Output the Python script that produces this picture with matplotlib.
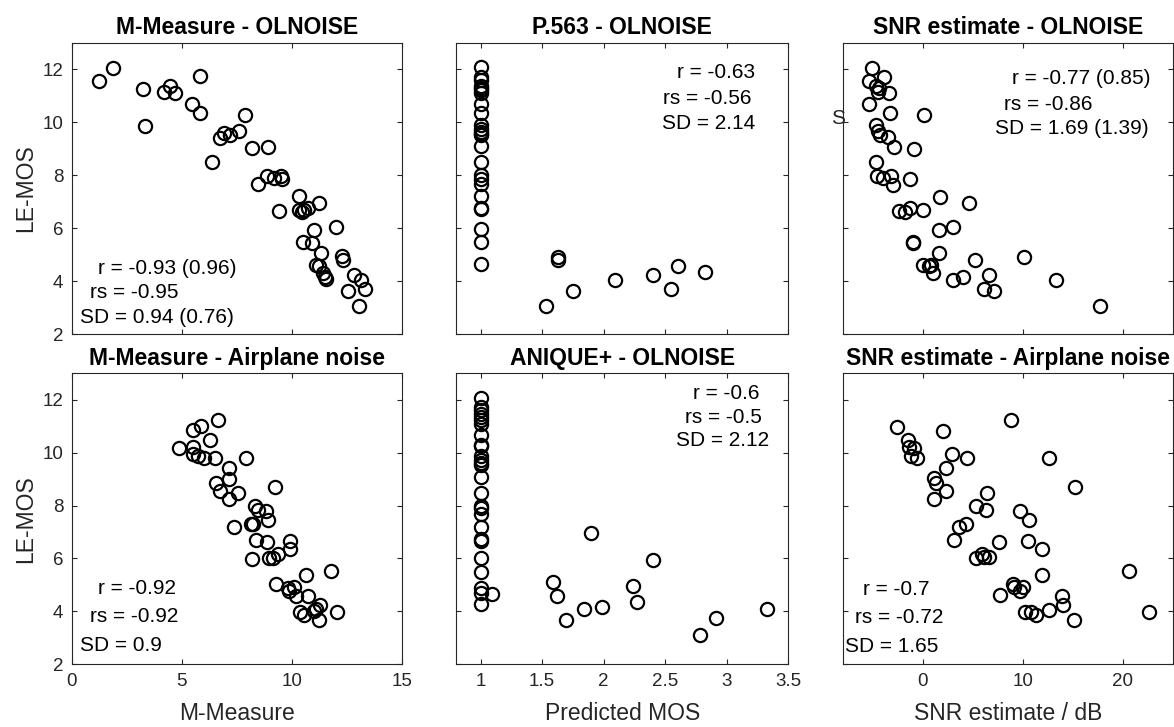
import matplotlib
matplotlib.use("Agg")
import matplotlib.pyplot as plt

plt.rcParams["font.family"] = ["Liberation Sans", "DejaVu Sans"]

# LE-MOS against M-Measure, OLNOISE
mm_ol_x = [1.25, 1.89, 3.22, 3.32, 4.20, 4.49, 4.71, 5.45, 5.82, 5.82, 6.39, 6.75, 6.90, 7.20, 7.60,
           7.89, 8.19, 8.49, 8.87, 8.91, 9.21, 9.52, 9.56, 9.44, 10.32, 10.32, 10.47, 10.57, 10.72, 11.25,
           10.50, 10.92, 11.03, 11.33, 11.10, 11.22, 11.40, 11.56, 11.52, 12.00, 12.28, 12.34, 12.84, 12.54,
           13.14, 13.34, 13.04]
mm_ol_y = [11.57, 12.06, 11.25, 9.86, 11.13, 11.38, 11.09, 10.67, 11.73, 10.33, 8.49, 9.42, 9.61, 9.51, 9.66,
           10.27, 9.03, 7.66, 7.96, 9.08, 7.89, 7.99, 7.86, 6.65, 7.20, 6.70, 6.60, 6.70, 6.75, 6.95,
           5.50, 5.46, 5.94, 5.08, 4.63, 4.57, 4.32, 4.09, 4.16, 6.03, 4.95, 4.82, 4.25, 3.62,
           4.06, 3.71, 3.08]

# P.563, OLNOISE
p563_x = [1.0, 1.0, 1.0, 1.0, 1.0, 1.0, 1.0, 1.0, 1.0, 1.0, 1.0, 1.0, 1.0, 1.0, 1.0, 1.0, 1.0,
          1.0, 1.0, 1.0, 1.0, 1.0, 1.0, 1.0, 1.0,
          1.63, 1.63, 1.53, 1.75, 2.09, 2.40, 2.60, 2.55, 2.82]
p563_y = [12.10, 11.72, 11.59, 11.38, 11.30, 11.22, 11.09, 10.67, 10.33, 9.91, 9.76, 9.63, 9.57, 9.51,
          9.11, 8.50, 8.00, 7.87, 7.68, 7.22, 6.76, 6.71, 5.97, 5.49, 4.66,
          4.92, 4.80, 3.08, 3.65, 4.06, 4.25, 4.57, 3.72, 4.34]

# SNR estimate, OLNOISE
snr_ol_x = [-5.07, -5.33, -3.83, -4.67, -4.33, -4.50, -3.40, -5.40, -3.27, 0.17, -4.67, -4.50, -4.27,
            -3.50, -2.90, -0.90, -4.67, -4.60, -3.93, -3.17, -3.00, -1.27, 1.73, 4.60, -2.33, -1.73,
            -1.27, 0.07, 1.60, 3.07, -1.00, -0.95, 1.60, 5.27, 10.17, 0.00, 0.67, 0.83, 1.00, 3.00,
            4.07, 6.67, 6.17, 7.17, 13.33, 17.77]
snr_ol_y = [12.06, 11.57, 11.72, 11.38, 11.28, 11.15, 11.09, 10.67, 10.33, 10.27, 9.89, 9.66, 9.53,
            9.44, 9.06, 9.00, 8.49, 7.99, 7.89, 7.96, 7.65, 7.86, 7.18, 6.95, 6.66, 6.62,
            6.75, 6.68, 5.94, 6.03, 5.48, 5.45, 5.05, 4.80, 4.92, 4.63, 4.59, 4.63, 4.32, 4.06,
            4.15, 4.25, 3.71, 3.65, 4.06, 3.08]

# M-Measure, airplane noise
mm_ap_x = [6.65, 5.51, 5.89, 6.27, 4.88, 5.51, 5.51, 5.74, 6.00, 6.50, 7.93, 7.15, 7.15, 6.54, 6.75,
           7.15, 7.55, 9.26, 8.31, 8.46, 8.84, 8.91, 7.36, 8.16, 8.23, 8.38, 8.87, 9.92, 9.92, 8.20,
           8.96, 9.17, 9.37, 9.29, 10.65, 11.78, 9.82, 9.89, 10.12, 10.20, 10.73, 10.38, 10.57, 11.03,
           11.10, 11.28, 11.22, 12.04]
mm_ap_y = [11.22, 10.84, 10.99, 10.49, 10.17, 10.21, 9.96, 9.88, 9.80, 9.80, 9.80, 9.42, 9.02, 8.85, 8.54,
           8.25, 8.47, 8.69, 7.97, 7.84, 7.81, 7.44, 7.19, 7.30, 7.30, 6.69, 6.62, 6.67, 6.37, 5.99,
           6.02, 6.02, 6.17, 5.05, 5.39, 5.51, 4.88, 4.76, 4.91, 4.57, 4.59, 3.96, 3.88, 4.03,
           4.09, 4.25, 3.66, 3.96]

# ANIQUE+, OLNOISE
anique_x = [1.0, 1.0, 1.0, 1.0, 1.0, 1.0, 1.0, 1.0, 1.0, 1.0, 1.0, 1.0, 1.0, 1.0, 1.0, 1.0, 1.0,
            1.0, 1.0, 1.0, 1.0, 1.0, 1.0, 1.0, 1.0, 1.0, 1.0,
            1.09, 1.585, 1.62, 1.69, 1.84, 1.99, 1.90, 2.24, 2.27, 2.40, 2.78, 2.91, 3.33]
anique_y = [12.06, 11.71, 11.60, 11.47, 11.35, 11.22, 11.09, 10.68, 10.30, 10.26, 9.86, 9.71, 9.61,
            9.55, 9.08, 8.47, 7.97, 7.91, 7.69, 7.19, 6.74, 6.65, 6.02, 5.48, 4.89, 4.70, 4.29,
            4.66, 5.10, 4.59, 3.66, 4.09, 4.17, 6.96, 4.95, 4.36, 5.93, 3.10, 3.75, 4.09]

# SNR estimate, airplane noise
snr_ap_x = [-2.57, 2.07, 8.83, -1.43, -1.40, -0.83, -1.17, -0.60, 2.93, 4.40, 12.60, 2.33, 1.17, 1.33,
            2.33, 1.10, 6.43, 15.27, 5.33, 6.33, 9.73, 10.67, 3.67, 4.33, 3.17, 7.67, 10.57, 11.90,
            5.33, 5.93, 6.17, 6.60, 20.67, 11.90, 9.07, 9.17, 10.00, 9.73, 7.77, 13.93, 14.07, 10.27,
            10.83, 11.33, 12.67, 15.17, 22.60]
snr_ap_y = [10.97, 10.83, 11.22, 10.49, 10.21, 10.17, 9.86, 9.80, 9.95, 9.80, 9.80, 9.42, 9.04, 8.85,
            8.54, 8.26, 8.47, 8.69, 7.97, 7.84, 7.81, 7.47, 7.19, 7.30, 6.69, 6.62, 6.65, 6.37,
            6.02, 6.18, 6.04, 6.04, 5.51, 5.39, 5.05, 4.92, 4.91, 4.76, 4.63, 4.59, 4.25, 3.98,
            3.96, 3.88, 4.04, 3.66, 3.98]

titles = ["M-Measure - OLNOISE", "P.563 - OLNOISE", "SNR estimate - OLNOISE",
          "M-Measure - Airplane noise", "ANIQUE+ - OLNOISE", "SNR estimate - Airplane noise"]
stats = [["r = -0.93 (0.96)", "rs = -0.95", "SD = 0.94 (0.76)"],
         ["r = -0.63", "rs = -0.56", "SD = 2.14"],
         ["r = -0.77 (0.85)", "rs = -0.86", "SD = 1.69 (1.39)"],
         ["r = -0.92", "rs = -0.92", "SD = 0.9"],
         ["r = -0.6", "rs = -0.5", "SD = 2.12"],
         ["r = -0.7", "rs = -0.72", "SD = 1.65"]]
xlabels = ["M-Measure", "Predicted MOS", "SNR estimate / dB"]
xlims = [(0, 15), (0.8, 3.5), (-8, 25)]
xticks = [[0, 5, 10, 15], [1, 1.5, 2, 2.5, 3, 3.5], [0, 10, 20]]
xticklabels = [["0", "5", "10", "15"], ["1", "1.5", "2", "2.5", "3", "3.5"], ["0", "10", "20"]]

data = [(mm_ol_x, mm_ol_y), (p563_x, p563_y), (snr_ol_x, snr_ol_y),
        (mm_ap_x, mm_ap_y), (anique_x, anique_y), (snr_ap_x, snr_ap_y)]

# where each stats line starts (axes fraction)
stat_pos = [[(0.081, 0.226), (0.055, 0.142), (0.025, 0.058)],
            [(0.666, 0.897), (0.622, 0.809), (0.619, 0.724)],
            [(0.512, 0.878), (0.488, 0.789), (0.463, 0.706)],
            [(0.081, 0.261), (0.055, 0.164), (0.025, 0.063)],
            [(0.714, 0.929), (0.689, 0.849), (0.662, 0.768)],
            [(0.062, 0.258), (0.037, 0.162), (0.007, 0.061)]]

W, H = 1174, 727
fig = plt.figure(figsize=(W / 100, H / 100), dpi=100)

col_left = [71.7, 456.0, 842.7]
col_width = [330.0, 332.3, 330.0]
row_top = [42.7, 373.3]
row_height = [291.6, 291.0]
dark = "#262626"

for i in range(6):
    r, c = divmod(i, 3)
    ax = fig.add_axes([col_left[c] / W, 1 - (row_top[r] + row_height[r]) / H,
                       col_width[c] / W, row_height[r] / H])
    x, y = data[i]
    ax.plot(x, y, linestyle="none", marker="o", ms=9.5, mfc="none", mec="black", mew=1.6)
    ax.set_xticks(xticks[c])
    ax.set_yticks([2, 4, 6, 8, 10, 12])
    ax.set_xlim(*xlims[c])
    ax.set_ylim(2, 13)
    ax.tick_params(direction="in", length=3.5, width=0.8, colors=dark, labelsize=13.5,
                   top=True, right=True, pad=6)
    for s in ax.spines.values():
        s.set_color(dark)
        s.set_linewidth(0.8)
    if r == 1:
        ax.set_xticklabels(xticklabels[c])
        ax.set_xlabel(xlabels[c], fontsize=16.5, color=dark, labelpad=9)
    else:
        ax.set_xticklabels([])
    if c == 0:
        ax.set_ylabel("LE-MOS", fontsize=16.5, color=dark, labelpad=4)
    else:
        ax.set_yticklabels([])
    ax.set_title(titles[i], fontsize=16.5, fontweight="bold", pad=6)
    for txt, (tx, ty) in zip(stats[i], stat_pos[i]):
        ax.text(tx, ty, txt, transform=ax.transAxes, ha="left", va="center", fontsize=15)

# stray label fragment left of the top right panel
fig.text(838 / W, 1 - 118 / H, "S", ha="center", va="center", fontsize=15, color=dark)

fig.savefig("out.png", dpi=100)
